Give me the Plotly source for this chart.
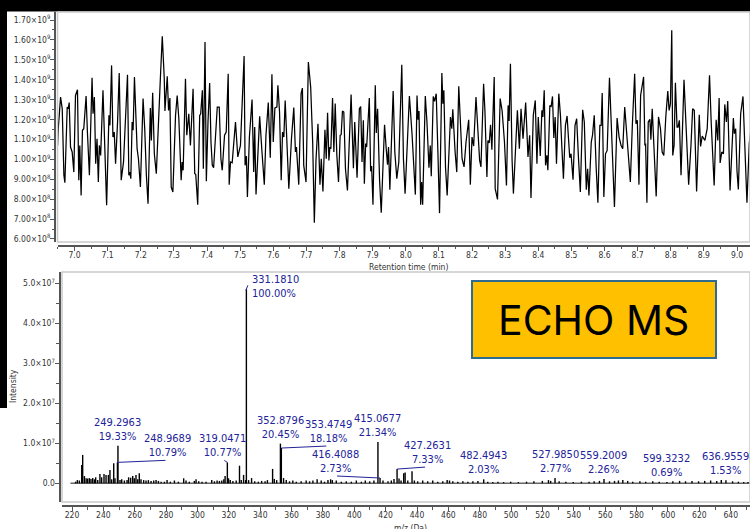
import plotly.graph_objects as go

# ---------------- Chromatogram (TIC) ----------------
tic_time_min = [
    6.949, 6.951, 6.958, 6.963, 6.968, 6.971, 6.978, 6.981, 6.984, 6.988, 6.993, 6.998,
    7.003, 7.009, 7.013, 7.016, 7.020, 7.024, 7.028, 7.035, 7.039, 7.045, 7.053, 7.056,
    7.060, 7.064, 7.068, 7.072, 7.075, 7.079, 7.086, 7.091, 7.097, 7.104, 7.107, 7.112,
    7.116, 7.120, 7.124, 7.130, 7.135, 7.141, 7.148, 7.160, 7.164, 7.167, 7.170, 7.174,
    7.177, 7.181, 7.189, 7.193, 7.199, 7.207, 7.212, 7.217, 7.222, 7.229, 7.232, 7.236,
    7.241, 7.247, 7.254, 7.259, 7.265, 7.271, 7.273, 7.280, 7.284, 7.288, 7.292, 7.297,
    7.305, 7.310, 7.315, 7.322, 7.325, 7.328, 7.335, 7.339, 7.345, 7.350, 7.358, 7.363,
    7.366, 7.372, 7.378, 7.381, 7.386, 7.389, 7.394, 7.398, 7.403, 7.408, 7.412, 7.416,
    7.420, 7.426, 7.431, 7.437, 7.442, 7.446, 7.453, 7.458, 7.464, 7.467, 7.471, 7.476,
    7.486, 7.493, 7.501, 7.512, 7.515, 7.519, 7.522, 7.528, 7.536, 7.541, 7.544, 7.548,
    7.559, 7.566, 7.573, 7.578, 7.585, 7.591, 7.596, 7.600, 7.605, 7.611, 7.614, 7.619,
    7.624, 7.628, 7.632, 7.636, 7.647, 7.655, 7.662, 7.667, 7.670, 7.677, 7.684, 7.688,
    7.692, 7.699, 7.706, 7.713, 7.719, 7.724, 7.729, 7.735, 7.741, 7.745, 7.750, 7.756,
    7.760, 7.764, 7.768, 7.771, 7.774, 7.779, 7.783, 7.787, 7.792, 7.797, 7.802, 7.805,
    7.809, 7.813, 7.818, 7.824, 7.835, 7.842, 7.846, 7.853, 7.860, 7.864, 7.868, 7.872,
    7.875, 7.879, 7.882, 7.890, 7.894, 7.897, 7.901, 7.908, 7.911, 7.915, 7.921, 7.926,
    7.936, 7.941, 7.945, 7.948, 7.952, 7.962, 7.967, 7.973, 7.979, 7.988, 7.993, 7.998,
    8.005, 8.011, 8.019, 8.023, 8.029, 8.034, 8.037, 8.040, 8.045, 8.048, 8.051, 8.059,
    8.064, 8.070, 8.074, 8.077, 8.083, 8.087, 8.092, 8.097, 8.102, 8.109, 8.112, 8.115,
    8.120, 8.125, 8.135, 8.139, 8.142, 8.149, 8.154, 8.160, 8.166, 8.170, 8.176, 8.182,
    8.190, 8.195, 8.200, 8.205, 8.212, 8.218, 8.223, 8.227, 8.235, 8.239, 8.245, 8.248,
    8.252, 8.256, 8.260, 8.267, 8.270, 8.277, 8.285, 8.291, 8.298, 8.304, 8.309, 8.312,
    8.316, 8.321, 8.325, 8.331, 8.337, 8.343, 8.348, 8.354, 8.362, 8.369, 8.374, 8.378,
    8.385, 8.391, 8.396, 8.400, 8.406, 8.411, 8.414, 8.418, 8.422, 8.426, 8.429, 8.435,
    8.439, 8.443, 8.447, 8.451, 8.455, 8.462, 8.467, 8.471, 8.476, 8.482, 8.487, 8.491,
    8.495, 8.499, 8.505, 8.511, 8.516, 8.521, 8.527, 8.534, 8.539, 8.545, 8.549, 8.553,
    8.560, 8.564, 8.569, 8.575, 8.580, 8.586, 8.590, 8.593, 8.598, 8.603, 8.608, 8.615,
    8.620, 8.625, 8.630, 8.638, 8.644, 8.650, 8.655, 8.661, 8.667, 8.672, 8.678, 8.684,
    8.691, 8.695, 8.699, 8.704, 8.709, 8.718, 8.722, 8.724, 8.728, 8.732, 8.737, 8.740,
    8.744, 8.750, 8.756, 8.763, 8.769, 8.774, 8.779, 8.785, 8.791, 8.795, 8.799, 8.803,
    8.806, 8.810, 8.814, 8.819, 8.822, 8.826, 8.831, 8.840, 8.846, 8.854, 8.861, 8.866,
    8.871, 8.878, 8.886, 8.890, 8.895, 8.903, 8.910, 8.917, 8.922, 8.927, 8.931, 8.937,
    8.942, 8.946, 8.949, 8.954, 8.959, 8.963, 8.968, 8.972, 8.979, 8.989, 8.992, 8.996,
    9.000, 9.004, 9.011, 9.018, 9.024, 9.030, 9.037, 9.045,
]

# total ion current, in units of 1e9 counts
tic_intensity_e9 = [
    1.070, 1.154, 1.313, 1.254, 0.920, 0.883, 1.263, 1.254, 1.285, 1.062, 1.037, 0.936,
    1.321, 1.350, 0.895, 1.070, 0.819, 1.146, 1.154, 1.318, 1.137, 0.920, 1.410, 1.229,
    1.313, 0.978, 1.104, 0.886, 1.070, 1.020, 1.347, 1.121, 0.769, 1.221, 1.171, 1.472,
    1.112, 1.137, 0.978, 1.188, 1.434, 0.895, 0.987, 1.425, 0.920, 0.936, 0.903, 1.188,
    1.146, 1.414, 1.054, 1.003, 0.861, 1.305, 1.154, 0.920, 0.777, 1.258, 1.095, 1.335,
    1.028, 0.928, 1.254, 1.397, 1.618, 1.405, 1.243, 1.417, 1.246, 1.308, 0.861, 0.836,
    1.221, 1.321, 1.204, 0.895, 0.987, 0.945, 1.405, 1.121, 1.229, 1.070, 1.355, 0.928,
    0.925, 0.772, 1.221, 1.229, 1.347, 0.953, 1.589, 0.890, 1.188, 1.383, 1.087, 0.970,
    0.958, 1.137, 1.263, 1.263, 1.003, 0.945, 1.121, 1.137, 1.430, 0.873, 0.987, 0.983,
    1.188, 1.012, 1.070, 1.519, 0.970, 1.017, 0.811, 1.112, 1.301, 0.936, 1.162, 0.824,
    1.216, 1.037, 0.873, 1.121, 1.285, 1.008, 1.427, 1.087, 1.258, 1.263, 1.372, 1.238,
    0.895, 1.137, 1.112, 1.296, 0.853, 1.104, 1.260, 1.037, 1.062, 0.873, 1.330, 1.358,
    0.970, 0.886, 1.489, 1.363, 1.087, 0.682, 0.995, 1.179, 0.873, 1.003, 0.839, 1.149,
    1.003, 1.234, 0.995, 1.062, 1.054, 1.308, 1.037, 1.280, 1.020, 0.886, 1.121, 1.124,
    1.243, 1.238, 0.953, 0.844, 1.326, 0.956, 1.188, 0.908, 1.254, 1.265, 0.987, 1.196,
    0.878, 1.079, 1.062, 1.308, 0.940, 0.967, 0.772, 1.372, 1.132, 1.254, 0.895, 0.732,
    1.174, 1.054, 0.973, 1.062, 0.848, 1.343, 1.037, 0.903, 0.987, 1.475, 1.003, 0.828,
    1.079, 1.318, 1.126, 0.987, 0.823, 1.321, 1.199, 1.243, 0.772, 0.886, 0.772, 1.318,
    1.188, 0.958, 1.070, 0.915, 1.316, 1.291, 1.330, 1.037, 0.730, 1.434, 1.280, 1.347,
    0.962, 0.819, 1.213, 1.154, 1.251, 1.037, 0.936, 1.367, 1.121, 1.003, 0.962, 1.087,
    1.199, 0.873, 1.112, 1.067, 1.313, 1.104, 0.995, 0.962, 1.380, 1.243, 0.911, 1.095,
    1.082, 1.174, 1.049, 1.414, 0.853, 0.799, 1.305, 1.243, 1.087, 0.869, 1.271, 1.193,
    1.480, 0.995, 0.828, 1.037, 1.246, 1.054, 1.254, 1.104, 1.285, 1.012, 1.121, 0.806,
    1.221, 1.296, 0.978, 1.213, 1.017, 1.246, 1.213, 1.347, 0.970, 1.020, 0.945, 1.271,
    1.266, 1.316, 1.107, 1.213, 0.978, 1.330, 1.221, 1.070, 0.903, 1.171, 1.218, 1.112,
    1.008, 1.028, 0.898, 1.171, 1.204, 1.020, 0.836, 1.249, 1.188, 0.848, 0.953, 0.819,
    1.087, 1.124, 1.221, 0.953, 0.782, 1.171, 1.171, 1.333, 0.811, 1.028, 1.045, 1.410,
    1.188, 0.953, 0.761, 1.208, 1.112, 1.070, 1.054, 1.263, 1.129, 1.003, 0.886, 1.171,
    1.430, 1.179, 1.196, 0.873, 1.321, 1.414, 1.070, 1.079, 0.782, 1.188, 1.201, 1.099,
    1.254, 0.987, 0.814, 1.213, 1.154, 1.037, 1.020, 1.213, 1.343, 1.246, 1.280, 1.648,
    1.020, 1.070, 1.385, 1.162, 1.162, 1.196, 0.920, 1.400, 1.171, 0.873, 1.070, 1.254,
    1.246, 0.839, 1.224, 1.065, 1.117, 1.095, 1.154, 1.422, 1.188, 0.962, 0.869, 1.199,
    1.095, 1.308, 0.982, 1.037, 1.028, 1.276, 1.188, 1.293, 0.844, 1.208, 1.129, 1.154,
    0.940, 0.849, 1.229, 1.316, 1.037, 0.782, 1.079, 1.200,
]

time_ticks = [7.0, 7.1, 7.2, 7.3, 7.4, 7.5, 7.6, 7.7, 7.8, 7.9, 8.0,
              8.1, 8.2, 8.3, 8.4, 8.5, 8.6, 8.7, 8.8, 8.9, 9.0]
tic_ticks = [0.6e9, 0.7e9, 0.8e9, 0.9e9, 1.0e9, 1.1e9, 1.2e9,
             1.3e9, 1.4e9, 1.5e9, 1.6e9, 1.7e9]

# ---------------- Mass spectrum ----------------
base_peak_intensity = 4.85e7

labeled_mz = [249.2963, 248.9689, 319.0471, 331.1810, 352.8796, 353.4749, 415.0677,
              416.4088, 427.2631, 482.4943, 527.9850, 559.2009, 599.3232, 636.9559]
labeled_pct = [19.33, 10.79, 10.77, 100.00, 20.45, 18.18, 21.34,
               2.73, 7.33, 2.03, 2.77, 2.26, 0.69, 1.53]

minor_mz = [
    222.3, 223.4, 224.7, 226.2, 226.8, 227.9, 229.0, 230.0, 231.1, 232.1, 233.2, 234.3,
    235.1, 236.4, 237.8, 238.9, 240.4, 241.7, 243.2, 244.2, 245.3, 246.6, 247.4, 250.6,
    251.7, 253.4, 255.1, 256.1, 257.4, 258.7, 259.7, 260.8, 261.9, 262.9, 264.0, 265.7,
    267.2, 268.7, 270.4, 272.1, 273.6, 275.1, 276.8, 278.9, 280.6, 282.7, 285.3, 287.8,
    291.2, 292.7, 294.8, 298.0, 299.1, 300.8, 302.9, 305.5, 309.1, 310.8, 312.5, 314.0,
    315.5, 316.8, 317.6, 319.8, 320.9, 322.6, 324.7, 326.8, 327.9, 329.4, 330.7, 332.6,
    334.5, 336.5, 338.8, 340.9, 343.1, 344.6, 347.9, 349.0, 350.5, 354.9, 356.6, 358.7,
    360.8, 363.0, 366.1, 369.3, 371.5, 373.6, 376.3, 378.9, 381.0, 383.2, 384.9, 386.0,
    388.5, 391.7, 394.9, 398.1, 401.3, 404.5, 407.0, 409.8, 412.5, 418.3, 421.5, 423.6,
    425.3, 428.5, 429.8, 431.5, 432.4, 434.1, 436.8, 438.3, 440.4, 443.6, 446.8, 450.0,
    453.2, 456.4, 459.2, 460.7, 462.8, 466.0, 469.2, 472.4, 475.6, 478.8, 485.1, 488.3,
    491.6, 495.2, 499.7, 504.6, 509.8, 514.5, 519.9, 523.8, 525.2, 530.6, 534.9, 539.6,
    544.8, 549.7, 552.9, 556.3, 562.7, 565.9, 568.4, 571.2, 574.3, 577.5, 582.1, 585.8,
    590.3, 594.4, 603.1, 607.4, 611.2, 615.3, 619.5, 623.4, 627.2, 631.1, 634.0, 641.2,
    644.9, 648.3, 651.0,
]
# intensities in units of 1e6 counts
minor_intensity_e6 = [
    0.4, 0.8, 0.7, 4.6, 7.1, 1.8, 1.25, 1.2, 1.3, 1.1, 1.3, 1.0,
    1.5, 0.8, 2.3, 1.5, 2.3, 2.1, 2.1, 3.3, 1.0, 5.0, 1.25, 0.8,
    1.0, 0.7, 0.8, 1.5, 1.4, 1.8, 1.25, 2.1, 1.0, 2.5, 1.0, 0.8,
    0.7, 0.8, 0.6, 0.7, 0.8, 0.6, 0.4, 0.4, 0.8, 0.4, 0.7, 0.4,
    1.25, 0.7, 0.4, 0.6, 1.0, 0.5, 0.4, 0.4, 0.8, 0.5, 0.7, 0.6,
    0.7, 1.0, 1.8, 1.25, 0.8, 0.6, 0.7, 4.4, 0.8, 2.1, 0.8, 0.8,
    1.3, 0.5, 0.4, 0.6, 0.5, 0.8, 3.6, 1.1, 0.8, 1.3, 0.8, 0.5,
    0.7, 0.4, 0.5, 0.7, 0.5, 0.7, 1.0, 0.7, 0.4, 0.8, 1.0, 0.8,
    0.7, 0.4, 0.5, 0.4, 0.7, 0.4, 0.7, 0.5, 0.7, 0.7, 0.5, 0.7,
    1.1, 1.2, 0.7, 2.5, 2.7, 0.7, 3.0, 0.7, 0.5, 0.7, 0.5, 0.7,
    0.4, 0.5, 0.8, 0.7, 0.5, 0.4, 0.5, 0.4, 0.5, 0.6, 0.4, 0.3,
    0.4, 0.3, 0.4, 0.3, 0.4, 0.5, 0.6, 0.8, 0.6, 0.5, 0.4, 0.3,
    0.4, 0.4, 0.5, 0.6, 0.5, 0.6, 0.7, 0.8, 0.6, 0.4, 0.5, 0.4,
    0.5, 0.4, 0.5, 0.6, 0.5, 0.6, 0.5, 0.6, 0.7, 0.6, 0.8, 0.5,
    0.4, 0.3, 0.3,
]

scan_range_mz = [219.0, 655.0]
mz_ticks = [220, 240, 260, 280, 300, 320, 340, 360, 380, 400, 420,
            440, 460, 480, 500, 520, 540, 560, 580, 600, 620, 640]
ms_ticks = [0.0, 1.0e7, 2.0e7, 3.0e7, 4.0e7, 5.0e7]

# ---------------- styling ----------------
W, H = 750, 529
AXIS_COLOR = "#555555"
FRAME_COLOR = "#c9c9c9"
TICK_FONT = dict(family="DejaVu Sans Condensed, Liberation Sans, sans-serif", size=8.5, color="#333333")
LABEL_FONT = dict(family="DejaVu Sans Condensed, Liberation Sans, sans-serif", size=11, color="#22229a")
LABEL_COLOR = "#22229a"

# horizontal label offsets (px) for annotations that sit beside their peak
label_dx = {248.9689: 50, 319.0471: -5, 353.4749: 47, 416.4088: -45, 427.2631: 30}


def px_x(x):
    return x / W


def px_y(y):
    return 1 - y / H


fig = go.Figure()

# chromatogram trace
fig.add_trace(go.Scatter(
    x=tic_time_min,
    y=[v * 1e9 for v in tic_intensity_e9],
    mode="lines", line=dict(color="black", width=1.25),
    xaxis="x", yaxis="y", showlegend=False, hoverinfo="skip",
))

# spectrum baseline
fig.add_trace(go.Scatter(
    x=scan_range_mz, y=[0, 0], mode="lines",
    line=dict(color="#666666", width=1.5),
    xaxis="x2", yaxis="y2", showlegend=False, hoverinfo="skip",
))

# spectrum sticks
labeled_int = [p / 100.0 * base_peak_intensity for p in labeled_pct]
all_mz = minor_mz + labeled_mz
all_int = [v * 1e6 for v in minor_intensity_e6] + labeled_int
stick_x, stick_y = [], []
for m, h in zip(all_mz, all_int):
    stick_x += [m, m, None]
    stick_y += [0, h, None]
fig.add_trace(go.Scatter(
    x=stick_x, y=stick_y, mode="lines",
    line=dict(color="black", width=1.4),
    xaxis="x2", yaxis="y2", showlegend=False, hoverinfo="skip",
))

annotations = []
shapes = []

# peak labels
for m, p, h in zip(labeled_mz, labeled_pct, labeled_int):
    text = f"{m:.4f}<br>{p:.2f}%"
    if p >= 100:
        annotations.append(dict(
            x=m, y=h, xref="x2", yref="y2", text=text, showarrow=False,
            xanchor="left", yanchor="middle", align="left",
            xshift=4, yshift=3, font=LABEL_FONT,
        ))
        shapes.append(dict(
            type="line", xref="x2", yref="y2",
            xsizemode="pixel", xanchor=m, x0=-0.5, x1=1.5,
            ysizemode="pixel", yanchor=h, y0=-1, y1=4,
            line=dict(color=LABEL_COLOR, width=1),
        ))
        continue
    dx = label_dx.get(m, 0)
    annotations.append(dict(
        x=m, y=h, xref="x2", yref="y2", text=text, showarrow=False,
        xanchor="center", yanchor="bottom", align="center",
        xshift=dx, yshift=1, font=LABEL_FONT,
    ))
    if dx:
        shapes.append(dict(
            type="line", xref="x2", yref="y2",
            xsizemode="pixel", xanchor=m, x0=0, x1=dx - 2 if dx > 0 else dx + 2,
            ysizemode="pixel", yanchor=h, y0=0, y1=2,
            line=dict(color=LABEL_COLOR, width=1),
        ))

# plot frames
for xr, yr in (("x", "y"), ("x2", "y2")):
    shapes.append(dict(
        type="rect", xref=f"{xr} domain", yref=f"{yr} domain",
        x0=0, x1=1, y0=0, y1=1, line=dict(color=FRAME_COLOR, width=1.5),
        layer="above",
    ))

# dark page edges
shapes.append(dict(type="rect", xref="paper", yref="paper", x0=0, x1=1,
                   y0=px_y(11.5), y1=1, fillcolor="black", line=dict(width=0), layer="below"))
shapes.append(dict(type="rect", xref="paper", yref="paper", x0=0, x1=px_x(7),
                   y0=px_y(408), y1=1, fillcolor="black", line=dict(width=0), layer="below"))

# ECHO MS badge
shapes.append(dict(type="rect", xref="paper", yref="paper",
                   x0=px_x(472), x1=px_x(716), y0=px_y(358), y1=px_y(281),
                   fillcolor="#FFC000", line=dict(color="#2F6B8E", width=2), layer="above"))
annotations.append(dict(x=px_x(593), y=px_y(320), xref="paper", yref="paper",
                        text="ECHO MS", showarrow=False, xanchor="center", yanchor="middle",
                        font=dict(family="Inter, Open Sans, sans-serif", size=41, color="black")))

# axis titles
annotations.append(dict(x=px_x(408), y=px_y(266.5), xref="paper", yref="paper",
                        text="Retention time (min)", showarrow=False,
                        xanchor="center", yanchor="middle", font=TICK_FONT))
annotations.append(dict(x=px_x(410), y=px_y(528), xref="paper", yref="paper",
                        text="m/z (Da)", showarrow=False,
                        xanchor="center", yanchor="middle", font=TICK_FONT))
annotations.append(dict(x=px_x(13), y=px_y(386), xref="paper", yref="paper",
                        text="Intensity", showarrow=False, textangle=-90,
                        xanchor="center", yanchor="middle", font=TICK_FONT))


def tic_label(v):
    if v < 1e9:
        return f"{v / 1e8:.2f}×10<sup>8</sup>"
    return f"{v / 1e9:.2f}×10<sup>9</sup>"


def ms_label(v):
    if v == 0:
        return "0.0"
    return f"{v / 1e7:.1f}×10<sup>7</sup>"


common_axis = dict(
    showline=True, linecolor=AXIS_COLOR, linewidth=2,
    ticks="outside", ticklen=4, tickwidth=1, tickcolor=AXIS_COLOR,
    showgrid=False, zeroline=False, tickfont=TICK_FONT, automargin=False,
)

fig.update_layout(
    width=W, height=H,
    margin=dict(l=0, r=0, t=0, b=0),
    paper_bgcolor="white", plot_bgcolor="white",
    showlegend=False,
    xaxis=dict(
        domain=[px_x(57.5), 1], range=[6.9487, 9.0392],
        anchor="free", position=px_y(245.5),
        tickmode="array", tickvals=time_ticks,
        ticktext=[f"{t:.1f}" for t in time_ticks],
        minor=dict(ticks="outside", ticklen=2.5, tickwidth=1, tickcolor=AXIS_COLOR,
                   tick0=6.95, dtick=0.1, showgrid=False),
        ticklabelstandoff=-3,
        **common_axis,
    ),
    yaxis=dict(
        domain=[px_y(242), px_y(12)], range=[0.5849e9, 1.7402e9],
        anchor="free", position=px_x(55),
        tickmode="array", tickvals=tic_ticks,
        ticktext=[tic_label(v) for v in tic_ticks],
        minor=dict(ticks="outside", ticklen=2.5, tickwidth=1, tickcolor=AXIS_COLOR,
                   tick0=0.65e9, dtick=0.1e9, showgrid=False),
        ticklabelstandoff=-2,
        **common_axis,
    ),
    xaxis2=dict(
        domain=[px_x(62), 1], range=[213.62, 652.3],
        anchor="free", position=px_y(506),
        tickmode="array", tickvals=mz_ticks,
        ticktext=[str(t) for t in mz_ticks],
        minor=dict(ticks="outside", ticklen=2.5, tickwidth=1, tickcolor=AXIS_COLOR,
                   tick0=210, dtick=20, showgrid=False),
        ticklabelstandoff=-3,
        **common_axis,
    ),
    yaxis2=dict(
        domain=[px_y(502), px_y(272)], range=[-0.4675e7, 5.283e7],
        anchor="free", position=px_x(59.5),
        tickmode="array", tickvals=ms_ticks,
        ticktext=[ms_label(v) for v in ms_ticks],
        minor=dict(ticks="outside", ticklen=2.5, tickwidth=1, tickcolor=AXIS_COLOR,
                   tick0=0.5e7, dtick=1e7, showgrid=False),
        ticklabelstandoff=-2,
        **common_axis,
    ),
    shapes=shapes,
    annotations=annotations,
)

fig.write_html("out.html")
